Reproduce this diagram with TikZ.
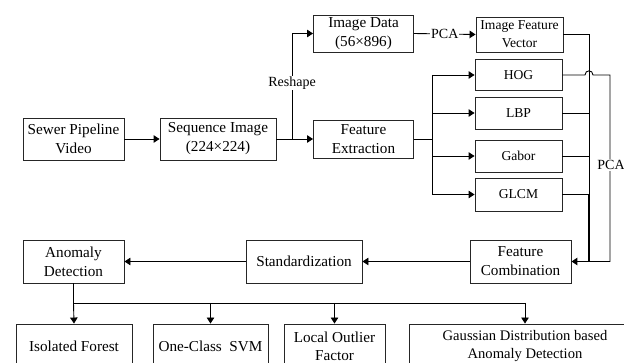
\documentclass[tikz,border=0pt]{standalone}
\usepackage{fontspec}
\setmainfont{Liberation Serif}
\usetikzlibrary{arrows.meta}
\begin{document}
\begin{tikzpicture}[x=1pt,y=-1pt,
  box/.style={draw=black!85,line width=0.9pt,align=center,inner sep=0pt,font=\fontsize{15.2}{19}\selectfont},
  smallbox/.style={box,font=\fontsize{13.6}{18}\selectfont},
  conn/.style={line width=0.9pt,-{Triangle[length=6pt,width=7.5pt]}},
  plain/.style={line width=0.9pt},
  lbl/.style={fill=white,inner sep=1pt,font=\fontsize{14}{17}\selectfont}]
\useasboundingbox (0,0) rectangle (624,363);
\begin{scope}
\clip (0,0) rectangle (624,363);
% top row
\node[box,minimum width=101pt,minimum height=42pt] (sewer) at (73.5,139) {Sewer Pipeline\\Video};
\node[box,minimum width=116pt,minimum height=42pt] (seq) at (218,139) {Sequence Image\\(224×224)};
\node[box,minimum width=100pt,minimum height=37pt] (imgdata) at (363.5,33.5) {Image Data\\(56×896)};
\node[box,minimum width=100pt,minimum height=38pt] (featext) at (363.5,139) {Feature\\Extraction};
\node[smallbox,minimum width=87pt,minimum height=35pt] (ifv) at (519.5,34.5) {Image Feature\\Vector};
\node[smallbox,minimum width=87pt,minimum height=31pt] (hog) at (518.5,75) {HOG};
\node[smallbox,minimum width=87pt,minimum height=32pt] (lbp) at (518.5,113) {LBP};
\node[smallbox,minimum width=87pt,minimum height=32pt] (gabor) at (518.5,156) {Gabor};
\node[smallbox,minimum width=87pt,minimum height=33pt] (glcm) at (518.5,194.5) {GLCM};
% middle row
\node[box,minimum width=101pt,minimum height=43pt] (fc) at (520.5,261.5) {Feature\\Combination};
\node[box,minimum width=116pt,minimum height=43pt] (std) at (304,261.5) {Standardization};
\node[box,minimum width=101pt,minimum height=43pt] (ad) at (73.5,261.5) {Anomaly\\Detection};
% bottom row
\node[box,minimum width=116pt,minimum height=45pt] (iso) at (74,346.5) {Isolated Forest};
\node[box,minimum width=115pt,minimum height=45pt] (svm) at (210.5,346.5) {One-Class~ SVM};
\node[box,font=\fontsize{15.2}{18}\selectfont,minimum width=101pt,minimum height=45pt] (lof) at (334.5,346.5) {Local Outlier\\Factor};
\node[box,font=\fontsize{14.6}{18}\selectfont,minimum width=232pt,minimum height=45pt] (gauss) at (525,346.5) {Gaussian Distribution based\\Anomaly Detection};
% coordinates
\coordinate (rs) at (292,139);
\coordinate (fx) at (432,139);
\coordinate (bus) at (73.5,303);
% connectors
\draw[conn] (sewer.east) -- (seq.west);
\draw[conn] (seq.east) -- (featext.west);
\draw[conn] (rs) |- (imgdata.west);
\node[lbl] (reshape) at (292,83) {Reshape};
\draw[conn] (imgdata.east) -- node[lbl] (pca1) {PCA} (ifv.west);
\draw[plain] (featext.east) -- (fx);
\draw[plain] (432,75) -- (432,194.5);
\draw[conn] (432,75) -- (hog.west);
\draw[conn] (432,113) -- (lbp.west);
\draw[conn] (432,156) -- (gabor.west);
\draw[conn] (432,194.5) -- (glcm.west);
\draw[plain] (ifv.east) -| (589,194.5);
\draw[plain] (lbp.east) -- (589,113);
\draw[plain] (gabor.east) -- (589,156);
\draw[plain] (glcm.east) -- (589,194.5);
\draw[conn,line width=1.5pt] (589,194.5) |- (fc.east);
\draw[plain] (hog.east) -- (585,75) .. controls (585,69.5) and (593,69.5) .. (593,75) -- (610,75) |- (589,261.5);
\node[lbl] (pca2) at (611,165) {PCA};
\draw[conn] (fc.west) -- (std.east);
\draw[conn] (std.west) -- (ad.east);
\draw[plain] (ad.south) -- (bus) -- (525,303);
\draw[conn] (bus) -- (iso.north);
\draw[conn] (210.5,303) -- (svm.north);
\draw[conn] (334.5,303) -- (lof.north);
\draw[conn] (525,303) -- (gauss.north);
\end{scope}
\end{tikzpicture}
\end{document}
